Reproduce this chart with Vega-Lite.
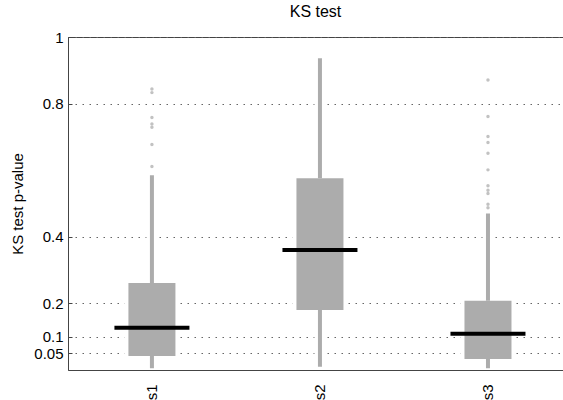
{
  "$schema": "https://vega.github.io/schema/vega-lite/v6.json",
  "width": 495,
  "height": 333,
  "autosize": {"type": "none"},
  "padding": {"left": 68, "top": 37, "right": 0, "bottom": 30},
  "background": "white",
  "title": {"text": "KS test", "fontSize": 16, "font": "Liberation Sans", "fontWeight": "normal", "offset": 10, "color": "#000"},
  "config": {
    "view": {"stroke": "#444", "strokeWidth": 1},
    "font": "Liberation Sans",
    "axis": {"labelFont": "Liberation Sans", "titleFont": "Liberation Sans", "labelColor": "#000", "titleColor": "#000"}
  },
  "datasets": {
    "boxes": [
      {"cat": "s1", "min": 0.005, "q1": 0.042, "median": 0.127, "q3": 0.261, "max": 0.585},
      {"cat": "s2", "min": 0.01, "q1": 0.180, "median": 0.360, "q3": 0.576, "max": 0.936},
      {"cat": "s3", "min": 0.005, "q1": 0.033, "median": 0.109, "q3": 0.208, "max": 0.470}
    ],
    "outliers": [
      {"cat": "s1", "value": 0.844},
      {"cat": "s1", "value": 0.833},
      {"cat": "s1", "value": 0.758},
      {"cat": "s1", "value": 0.739},
      {"cat": "s1", "value": 0.729},
      {"cat": "s1", "value": 0.677},
      {"cat": "s1", "value": 0.611},
      {"cat": "s3", "value": 0.871},
      {"cat": "s3", "value": 0.761},
      {"cat": "s3", "value": 0.701},
      {"cat": "s3", "value": 0.683},
      {"cat": "s3", "value": 0.651},
      {"cat": "s3", "value": 0.601},
      {"cat": "s3", "value": 0.553},
      {"cat": "s3", "value": 0.540},
      {"cat": "s3", "value": 0.530},
      {"cat": "s3", "value": 0.498},
      {"cat": "s3", "value": 0.487}
    ]
  },
  "encoding": {
    "x": {
      "field": "cat", "type": "nominal",
      "scale": {"type": "point", "domain": ["s1", "s2", "s3"], "padding": 0.473, "align": 0.528},
      "axis": {"title": null, "labelAngle": -90, "labelPadding": 14, "ticks": false, "domain": false, "labelFontSize": 15, "grid": false}
    }
  },
  "layer": [
    {
      "data": {"name": "boxes"},
      "mark": {"type": "rule", "color": "white", "strokeWidth": 11},
      "encoding": {
        "y": {
          "field": "min", "type": "quantitative",
          "scale": {"domain": [0, 1], "nice": false, "zero": true},
          "axis": {
            "title": "KS test p-value", "titleFontSize": 15, "titleFontWeight": "normal", "titlePadding": 8,
            "values": [0.05, 0.1, 0.2, 0.4, 0.8, 1], "format": "~g",
            "labelFontSize": 15, "tickSize": -4, "labelPadding": 9, "tickColor": "#444",
            "domain": true, "domainColor": "#444",
            "grid": true, "gridDash": [1.5, 5.5], "gridColor": "#666", "gridWidth": 1.2
          }
        },
        "y2": {"field": "max"}
      }
    },
    {
      "data": {"name": "boxes"},
      "mark": {"type": "rule", "color": "#acacac", "strokeWidth": 4},
      "encoding": {
        "y": {"field": "min", "type": "quantitative"},
        "y2": {"field": "max"}
      }
    },
    {
      "data": {"name": "boxes"},
      "mark": {"type": "bar", "color": "white", "width": 55},
      "encoding": {
        "y": {"field": "q1", "type": "quantitative"},
        "y2": {"field": "q3"}
      }
    },
    {
      "data": {"name": "boxes"},
      "mark": {"type": "bar", "color": "#acacac", "width": 47},
      "encoding": {
        "y": {"field": "q1", "type": "quantitative"},
        "y2": {"field": "q3"}
      }
    },
    {
      "data": {"name": "boxes"},
      "mark": {"type": "tick", "color": "#000", "size": 75, "thickness": 4, "opacity": 1},
      "encoding": {
        "y": {"field": "median", "type": "quantitative"}
      }
    },
    {
      "data": {"name": "outliers"},
      "mark": {"type": "circle", "color": "#c2c2c2", "size": 12, "opacity": 1},
      "encoding": {
        "y": {"field": "value", "type": "quantitative"}
      }
    }
  ]
}
